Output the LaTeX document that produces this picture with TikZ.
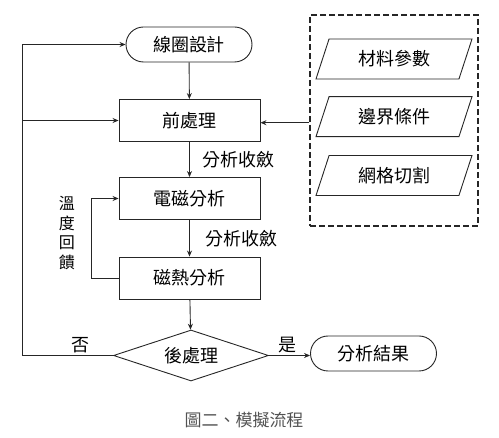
\documentclass[tikz,border=0pt]{standalone}
\usepackage{fontspec}
\setmainfont{Noto Sans CJK TC}
\usetikzlibrary{shapes.geometric,shapes.misc,arrows.meta}
\begin{document}
\begin{tikzpicture}[x=1pt,y=-1pt,
  every node/.style={font=\fontsize{18}{21}\selectfont, inner sep=0pt},
  ln/.style={line width=0.9pt, draw=black!85},
  arr/.style={ln, -{Stealth[length=6pt,width=5pt]}},
  term/.style={ln, rounded rectangle, minimum width=126pt, minimum height=35pt},
  procbox/.style={ln, rectangle, minimum width=141pt, minimum height=42pt},
  para/.style={ln, trapezium, trapezium left angle=52, trapezium right angle=128,
    trapezium stretches body, minimum width=156pt, minimum height=40pt},
  dec/.style={ln, diamond, aspect=3.1, minimum width=155pt, minimum height=51pt},
  lbl/.style={font=\fontsize{18}{21}\selectfont}
]
\useasboundingbox (0,0) rectangle (499,438);
\node[term] (top) at (189,44.5) {線圈設計};
\node[procbox] (pre) at (189.5,120.5) {前處理};
\node[procbox] (em) at (189.5,198.5) {電磁分析};
\node[procbox] (mh) at (189.5,278) {磁熱分析};
\node[dec] (post) at (191,355.5) {後處理};
\node[term] (res) at (373.5,353.5) {分析結果};

\node[ln, line width=1.1pt, dashed, dash pattern=on 6pt off 3pt, rectangle, minimum width=168pt, minimum height=211pt] (grp) at (394,120.5) {};
\node[para] (p1) at (394,59) {材料參數};
\node[para] (p2) at (394,116.7) {邊界條件};
\node[para] (p3) at (394,175.5) {網格切割};

\draw[arr] (top) -- (pre);
\draw[arr] (pre) -- node[lbl, right=13pt] (c1) {分析收斂} (em);
\draw[arr] (em) -- node[lbl, right=16pt] (c2) {分析收斂} (mh);
\draw[arr] (mh) -- (post);
\draw[arr] (grp.west |- 0,122.7) -- (pre.east |- 0,122.7);
\draw[arr] (mh.west) -- ++(-27,0) |- (em.west);
\node[align=center, font=\fontsize{16}{19.7}\selectfont] (fb) at (67,233) {溫\\度\\回\\饋};

\coordinate (L) at (22.7,355.5);
\draw[arr] (post.west) -- (L) |- (top.west);
\draw[arr] (L |- pre.west) -- (pre.west);
\node[lbl] (no) at (80,345) {否};
\draw[arr] (post.east) -- (res.west |- post.east);
\node[lbl] (yes) at (287,345) {是};

\node[font=\fontsize{17}{20}\selectfont, text=black!68] (cap) at (244,420) {圖二、模擬流程};
\end{tikzpicture}
\end{document}
